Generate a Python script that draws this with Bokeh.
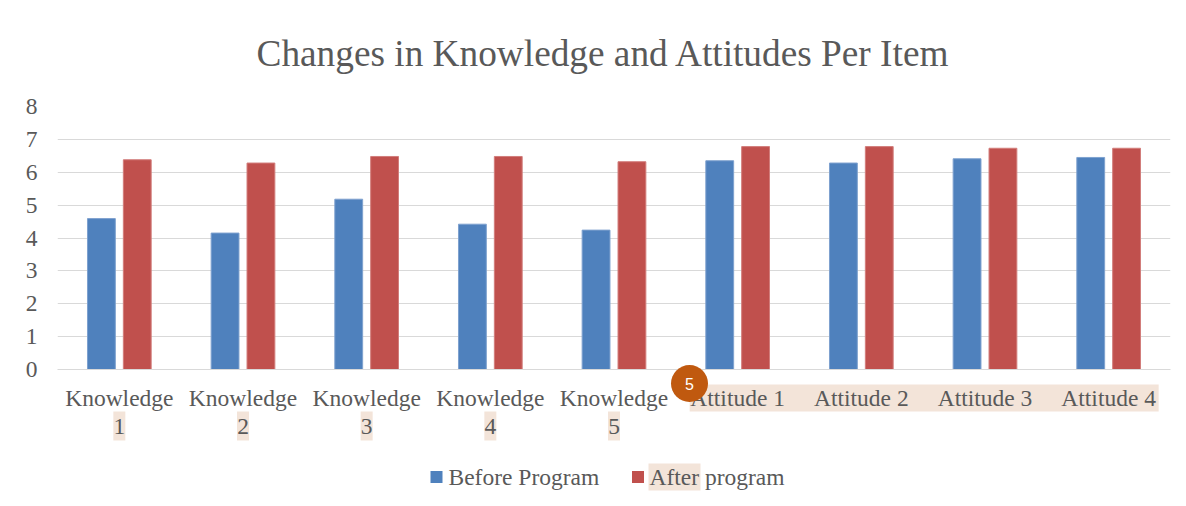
from bokeh.plotting import figure
from bokeh.models import (ColumnDataSource, Range1d, FixedTicker, LinearAxis,
                          CustomJSTickFormatter)
from bokeh.transform import dodge
from bokeh.core.properties import value
from bokeh.embed import file_html
from bokeh.resources import INLINE

# ---------------- data ----------------
categories = ["Knowledge 1", "Knowledge 2", "Knowledge 3", "Knowledge 4", "Knowledge 5",
              "Attitude 1", "Attitude 2", "Attitude 3", "Attitude 4"]
before_program = [4.59, 4.15, 5.18, 4.42, 4.24, 6.35, 6.28, 6.41, 6.45]
after_program = [6.38, 6.28, 6.48, 6.48, 6.32, 6.78, 6.78, 6.73, 6.73]
series_names = ["Before Program", "After program"]
y_ticks = [0, 1, 2, 3, 4, 5, 6, 7, 8]
# category labels wrap onto two lines as in the reference
label_line1 = ["Knowledge", "Knowledge", "Knowledge", "Knowledge", "Knowledge",
               "Attitude 1", "Attitude 2", "Attitude 3", "Attitude 4"]
label_line2 = ["1", "2", "3", "4", "5", "", "", "", ""]
title_text = "Changes in Knowledge and Attitudes Per Item"

# ---------------- style ----------------
FONT = "Liberation Serif"
TEXT = "#595959"
GRID = "#D9D9D9"
BLUE = "#4F81BD"
RED = "#C0504D"
HILITE = "#F3E4D9"
FS = "23.5px"

W, H = 1178, 498
BL, BR, BT, BB = 57, 8, 106, 129

n = len(categories)
p = figure(x_range=Range1d(0, n), y_range=Range1d(0, 8), x_axis_type=None,
           width=W, height=H, output_backend="svg", toolbar_location=None,
           min_border_left=BL, min_border_right=BR,
           min_border_top=BT, min_border_bottom=BB)
p.outline_line_color = None
p.background_fill_color = "white"
p.border_fill_color = "white"

p.title.text = title_text
p.title.text_font = FONT
p.title.text_font_size = "37.3px"
p.title.text_font_style = "normal"
p.title.text_color = TEXT
p.title.align = "left"
p.title.offset = 199
p.title.vertical_align = "middle"
p.title.standoff = 63

p.xgrid.grid_line_color = None
p.ygrid.grid_line_color = GRID
p.ygrid.grid_line_width = 1.2
p.ygrid.ticker = FixedTicker(ticks=y_ticks)

p.yaxis.ticker = FixedTicker(ticks=y_ticks)
p.yaxis.axis_line_color = None
p.yaxis.major_tick_line_color = None
p.yaxis.minor_tick_line_color = None
p.yaxis.major_tick_out = 0
p.yaxis.major_tick_in = 0
p.yaxis.major_label_text_font = FONT
p.yaxis.major_label_text_font_size = FS
p.yaxis.major_label_text_color = TEXT
p.yaxis.major_label_standoff = 20

# category axis: one slot per category, labels on two lines (two stacked axes)
cat_pos = [i + 0.5 for i in range(n)]
fmt_code = "const i = Math.floor(tick); return (i >= 0 && i < labels.length) ? labels[i] : '';"


def make_axis(labels, line_color, standoff):
    return LinearAxis(ticker=FixedTicker(ticks=cat_pos),
                      formatter=CustomJSTickFormatter(args=dict(labels=labels), code=fmt_code),
                      axis_line_color=line_color, axis_line_width=1.2,
                      major_tick_line_color=None, minor_tick_line_color=None,
                      major_tick_out=0, major_tick_in=0, minor_tick_out=0, minor_tick_in=0,
                      major_label_text_font=FONT, major_label_text_font_size=FS,
                      major_label_text_color=TEXT, major_label_standoff=standoff)


p.add_layout(make_axis(label_line1, GRID, 15), "below")
p.add_layout(make_axis(label_line2, None, 5), "below")

# pixel helpers for the page overlays (highlights / badge / legend)
frame_w = W - BL - BR
frame_h = H - BT - BB
cat_w = frame_w / n
unit_px = frame_h / (y_ticks[-1] - y_ticks[0])


def sx(page_x):
    return (page_x - BL) / cat_w


def sy(page_y):
    return -(page_y - (H - BB)) / unit_px


# highlight marks behind the tick labels (drawn before the axes)
k_idx = [i for i, c in enumerate(categories) if c.startswith("Knowledge")]
a_idx = [i for i, c in enumerate(categories) if c.startswith("Attitude")]
hl_left = [cat_pos[i] - 6 / cat_w for i in k_idx] + [cat_pos[a_idx[0]] - 48 / cat_w, sx(648)]
hl_right = [cat_pos[i] + 6 / cat_w for i in k_idx] + [cat_pos[a_idx[-1]] + 50 / cat_w, sx(700)]
hl_top = [sy(411)] * len(k_idx) + [sy(384), sy(463)]
hl_bottom = [sy(440)] * len(k_idx) + [sy(411), sy(490)]
p.quad(left=hl_left, right=hl_right, top=hl_top, bottom=hl_bottom,
       fill_color=HILITE, line_color=None, level="guide")

src = ColumnDataSource(dict(pos=cat_pos, cat=categories,
                            before=before_program, after=after_program))
r_before = p.vbar(x=dodge("pos", -0.145), top="before", width=0.225,
                  source=src, fill_color=BLUE, line_color="#7EA1CF", line_width=1)
r_after = p.vbar(x=dodge("pos", 0.145), top="after", width=0.225,
                 source=src, fill_color=RED, line_color="#D27D7B", line_width=1)

# legend below the axis (drawn as overlay glyphs so it is not clipped to the frame)
leg_y = sy(476.5)
for gx, color in ((436, BLUE), (637.5, RED)):
    p.rect(x=[sx(gx)], y=[leg_y], width=12, height=12,
           width_units="screen", height_units="screen",
           fill_color=color, line_color=None, level="overlay")
p.text(x=[sx(448), sx(649)], y=[leg_y, leg_y], text=series_names,
       text_align="left", text_baseline="middle", text_color=TEXT,
       text_font=value(FONT), text_font_size=FS, level="overlay")

# orange badge
p.scatter(x=[sx(689)], y=[sy(383)], marker="circle", size=37,
          fill_color="#C0590F", line_color=None, level="overlay")
p.text(x=[sx(689)], y=[sy(383)], text=["5"], text_align="center",
       text_baseline="middle", text_color="white", text_font=value("Liberation Sans"),
       text_font_size="16px", level="overlay")

open("out.html", "w").write(file_html(p, INLINE))
